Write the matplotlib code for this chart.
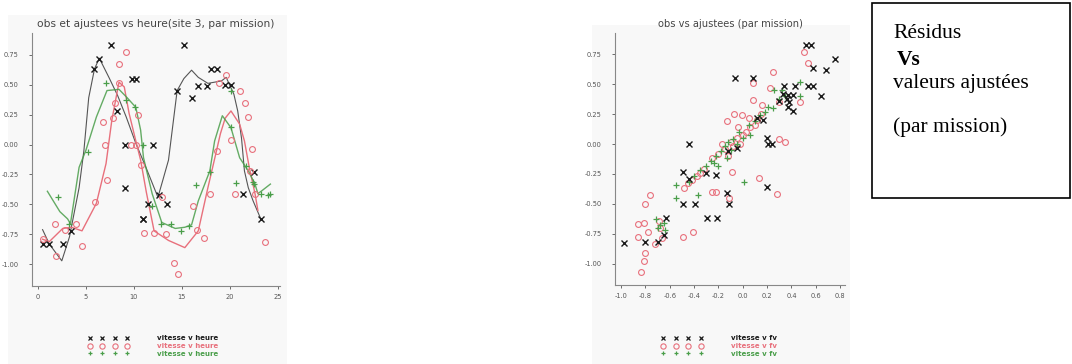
import matplotlib
matplotlib.use("Agg")
import matplotlib.pyplot as plt
from matplotlib.lines import Line2D
from matplotlib.patches import Rectangle

# ---- donnees : obs et ajustees vs heure (site 3) ----
noir_h = [0.5, 1.2, 2.6, 3.5, 5.9, 6.4, 7.6, 8.2, 9.1, 9.1, 9.8, 10.2, 10.9, 10.9, 11.5,
          12.0, 12.6, 13.4, 14.5, 15.2, 16.0, 16.7, 17.6, 18.0, 18.6, 19.5, 20.1, 21.4, 22.5, 23.2]
noir_v = [-0.83, -0.83, -0.83, -0.72, 0.63, 0.71, 0.83, 0.28, 0.0, -0.36, 0.55, 0.55, -0.62, -0.62, -0.50,
          0.0, -0.42, -0.50, 0.45, 0.83, 0.39, 0.49, 0.49, 0.63, 0.63, 0.50, 0.50, -0.41, -0.23, -0.62]

rouge_h = [9.2, 8.5, 8.5, 8.0, 7.8, 6.8, 7.0, 9.7, 10.2, 10.4, 10.7, 7.2, 19.6, 18.9, 21.0, 21.6,
           21.9, 22.3, 20.1, 18.6, 17.9, 20.5, 22.1, 12.9, 0.5, 1.75, 1.9, 2.8, 4.0, 4.6, 6.0,
           11.1, 12.1, 13.3, 14.2, 14.6, 16.2, 16.6, 17.3, 22.6, 23.6]
rouge_v = [0.77, 0.67, 0.51, 0.35, 0.22, 0.19, 0.0, 0.0, 0.0, 0.25, -0.17, -0.30, 0.58, 0.51, 0.45, 0.35,
           0.23, -0.04, 0.04, -0.05, -0.41, -0.41, -0.22, -0.44, -0.79, -0.66, -0.93, -0.71, -0.66, -0.85, -0.48,
           -0.74, -0.74, -0.75, -0.99, -1.08, -0.51, -0.71, -0.78, -0.41, -0.81]

vert_h = [7.1, 5.2, 9.2, 10.1, 10.9, 20.1, 20.1, 17.9, 16.5, 21.7, 22.5, 24.2, 23.2, 2.1, 3.3,
          11.9, 12.8, 13.9, 14.9, 15.7, 20.6, 22.4, 23.9]
vert_v = [0.51, -0.06, 0.37, 0.31, 0.0, 0.45, 0.15, -0.23, -0.34, -0.18, -0.33, -0.41, -0.41, -0.44, -0.66,
          -0.51, -0.66, -0.66, -0.72, -0.68, -0.32, -0.31, -0.42]

# courbes ajustees
noir_fit_h = [0.5, 1.2, 2.5, 3.3, 4.3, 4.8, 5.3, 5.9, 6.4, 7.4, 8.3, 9.2, 10.2, 11.3, 12.5,
              13.0, 13.6, 14.5, 15.2, 16.0, 16.7, 17.7, 19.1, 19.6, 20.4, 20.8, 21.2, 21.5, 21.9, 22.4, 23.2]
noir_fit_v = [-0.71, -0.83, -0.97, -0.77, -0.36, -0.05, 0.39, 0.63, 0.72, 0.56, 0.41, 0.23, 0.01, -0.20, -0.44,
              -0.30, -0.13, 0.45, 0.55, 0.62, 0.56, 0.51, 0.53, 0.56, 0.42, 0.28, 0.05, -0.22, -0.36, -0.47, -0.62]

rouge_fit_h = [0.5, 1.2, 2.6, 3.5, 4.6, 6.1, 7.1, 7.7, 8.45, 9.0, 9.5, 10.2, 10.7, 11.3, 12.1,
               13.6, 15.3, 16.7, 17.7, 18.6, 19.0, 19.5, 20.1, 21.0, 21.5, 22.0, 22.6, 22.9]
rouge_fit_v = [-0.79, -0.81, -0.70, -0.69, -0.72, -0.49, -0.16, 0.20, 0.52, 0.48, 0.26, 0.03, -0.13, -0.40, -0.72,
               -0.80, -0.86, -0.72, -0.36, -0.05, 0.09, 0.22, 0.28, 0.17, 0.03, -0.19, -0.41, -0.55]

vert_fit_h = [1.0, 2.3, 3.1, 3.4, 4.3, 5.0, 6.1, 7.2, 8.45, 9.3, 10.2, 10.7, 11.0, 11.9, 12.9,
              14.3, 15.3, 16.0, 16.7, 17.9, 18.4, 19.2, 20.1, 21.0, 21.9, 22.6, 22.9, 23.4, 24.2]
vert_fit_v = [-0.39, -0.56, -0.62, -0.66, -0.19, -0.05, 0.23, 0.45, 0.46, 0.39, 0.31, 0.12, -0.11, -0.41, -0.65,
              -0.70, -0.69, -0.67, -0.47, -0.22, 0.03, 0.24, 0.14, -0.11, -0.22, -0.33, -0.41, -0.38, -0.33]

# ---- donnees : obs vs ajustees ----
noir_aj = [0.52, 0.56, 0.76, 0.68, 0.58, -0.06, 0.08, 0.34, 0.43, 0.54, 0.58, 0.64, 0.37, 0.41, 0.38,
           0.37, 0.41, 0.20, 0.21, 0.24, -0.44, -0.49, -0.44, 0.20, -0.13, -0.11, -0.49, -0.39, -0.29,
           -0.21, -0.63, -0.65, -0.98, -0.80, -0.70, 0.33, 0.36, 0.30, 0.12, 0.17, -0.12, -0.05, -0.22, -0.30]
noir_obs = [0.83, 0.83, 0.71, 0.62, 0.64, 0.55, 0.55, 0.49, 0.49, 0.49, 0.49, 0.40, 0.41, 0.41, 0.35,
            0.31, 0.28, 0.05, 0.0, 0.0, 0.0, -0.23, -0.29, -0.36, -0.41, -0.50, -0.50, -0.50, -0.62,
            -0.62, -0.62, -0.76, -0.83, -0.82, -0.82, 0.42, 0.38, 0.36, 0.22, 0.20, -0.06, -0.03, -0.26, -0.24]

rouge_aj = [0.50, 0.54, 0.25, 0.08, 0.22, 0.08, 0.16, 0.30, 0.47, -0.07, -0.01, 0.05, -0.13, -0.04, 0.30,
            0.35, -0.09, 0.13, 0.28, -0.25, -0.22, -0.11, -0.76, -0.80, -0.86, -0.81, -0.78, -0.86, -0.69,
            -0.68, -0.66, -0.72, -0.49, -0.41, -0.80, -0.81, -0.84, -0.48, -0.45, -0.42, -0.38, -0.35, -0.32,
            -0.25, -0.20, -0.15, -0.10, -0.05, 0.0, 0.03, -0.02, 0.06, -0.08, -0.17, 0.10, 0.15, 0.12, -0.12]
rouge_obs = [0.77, 0.68, 0.60, 0.51, 0.47, 0.37, 0.33, 0.35, 0.35, 0.25, 0.24, 0.22, 0.19, 0.14, 0.04,
             0.02, -0.23, -0.28, -0.42, -0.40, -0.40, -0.45, -0.43, -0.50, -0.67, -0.66, -0.74, -0.78, -0.64,
             -0.70, -0.79, -0.84, -0.78, -0.74, -0.91, -0.98, -1.07, -0.37, -0.33, -0.30, -0.27, -0.24, -0.21,
             -0.12, -0.08, -0.04, 0.02, 0.05, 0.08, 0.10, 0.0, 0.14, -0.02, 0.0, 0.16, 0.25, 0.20, -0.10]

vert_aj = [0.47, 0.32, 0.26, 0.21, 0.10, 0.14, 0.18, 0.25, 0.05, -0.03, -0.08, -0.12, -0.15, -0.18, -0.22,
           -0.26, -0.30, -0.35, -0.40, -0.44, -0.24, 0.01, -0.55, -0.55, -0.37, -0.71, -0.68, -0.65, -0.64,
           -0.70, 0.47, -0.10, -0.05, 0.0, 0.06, -0.20, -0.13, 0.30, 0.35]
vert_obs = [0.52, 0.45, 0.45, 0.31, 0.19, 0.24, 0.27, 0.30, 0.16, 0.10, 0.04, 0.02, -0.02, -0.06, -0.10,
            -0.14, -0.18, -0.22, -0.27, -0.32, -0.16, -0.32, -0.34, -0.45, -0.43, -0.63, -0.68, -0.66, -0.72,
            -0.70, 0.40, -0.05, 0.0, 0.05, 0.08, -0.18, -0.12, 0.38, 0.40]

y_ticks = [0.75, 0.50, 0.25, 0.0, -0.25, -0.50, -0.75, -1.00]
x_ticks_h = [0, 5, 10, 15, 20, 25]
x_ticks_aj = [-1.0, -0.8, -0.6, -0.4, -0.2, 0.0, 0.2, 0.4, 0.6, 0.8]

NOIR = "#1a1a1a"
ROUGE = "#e8707c"
VERT = "#4a9e4a"

fig = plt.figure(figsize=(10.72, 3.64), dpi=100)
W, H = 1072, 364

def px_rect(x0, y0, x1, y1):
    return (x0 / W, 1 - y1 / H, (x1 - x0) / W, (y1 - y0) / H)

# fonds legerement gris des deux graphiques
for r in [px_rect(8, 15, 287, 364), px_rect(592, 25, 850, 364)]:
    fig.add_artist(Rectangle(r[:2], r[2], r[3], transform=fig.transFigure,
                             facecolor="#f8f8f8", edgecolor="none", zorder=0))

ax1 = fig.add_axes(px_rect(32, 33, 280, 286))
ax2 = fig.add_axes(px_rect(615, 33, 845, 285))

def style(ax, xt, xfmt):
    ax.set_facecolor("none")
    for s in ["top", "right"]:
        ax.spines[s].set_visible(False)
    for s in ["left", "bottom"]:
        ax.spines[s].set_color("#888888")
        ax.spines[s].set_linewidth(0.8)
    ax.set_yticks(y_ticks)
    ax.set_yticklabels([f"{v:.2f}" for v in y_ticks])
    ax.set_xticks(xt)
    ax.set_xticklabels([xfmt(v) for v in xt])
    ax.tick_params(labelsize=4.8, colors="#555555", length=2.5, width=0.6, pad=3)
    ax.tick_params(axis="y", pad=7)
    ax.set_ylim(-1.18, 0.93)

# graphe de gauche : series et courbes ajustees
ax1.plot(noir_fit_h, noir_fit_v, color="#555555", lw=0.8)
ax1.plot(rouge_fit_h, rouge_fit_v, color=ROUGE, lw=1.0)
ax1.plot(vert_fit_h, vert_fit_v, color=VERT, lw=1.0, alpha=0.85)
ax1.plot(noir_h, noir_v, ls="", marker="x", ms=3.8, mew=1.0, color=NOIR)
ax1.plot(rouge_h, rouge_v, ls="", marker="o", ms=4.2, mew=0.8, mfc="none", color=ROUGE)
ax1.plot(vert_h, vert_v, ls="", marker="+", ms=3.8, mew=0.9, color=VERT)
style(ax1, x_ticks_h, lambda v: f"{v:d}")
ax1.set_xlim(-0.6, 25.2)
ax1.set_title("obs et ajustees vs heure(site 3, par mission)", fontsize=7.7, color="#444444", pad=4)

# graphe de droite : obs vs ajustees
ax2.plot(rouge_aj, rouge_obs, ls="", marker="o", ms=4.2, mew=0.8, mfc="none", color=ROUGE)
ax2.plot(vert_aj, vert_obs, ls="", marker="+", ms=3.8, mew=0.9, color=VERT)
ax2.plot(noir_aj, noir_obs, ls="", marker="x", ms=3.8, mew=1.0, color=NOIR)
style(ax2, x_ticks_aj, lambda v: f"{v:.1f}")
ax2.set_xlim(-1.05, 0.84)
ax2.set_title("obs vs ajustees (par mission)", fontsize=7.1, color="#444444", pad=4)

# legendes sous chaque graphe
def poignees():
    return [Line2D([], [], ls="", marker="x", ms=3.5, mew=0.9, color=NOIR),
            Line2D([], [], ls="", marker="o", ms=3.8, mew=0.8, mfc="none", color=ROUGE),
            Line2D([], [], ls="", marker="+", ms=3.5, mew=0.9, color=VERT)]

fig.legend(poignees(), ["vitesse v heure"] * 3, loc="center",
           bbox_to_anchor=(153 / W, 1 - 346 / H), frameon=False, numpoints=4,
           handlelength=6, handletextpad=4, labelspacing=0.25,
           labelcolor="linecolor", prop={"weight": "bold", "size": 5})
fig.legend(poignees(), ["vitesse v fv"] * 3, loc="center",
           bbox_to_anchor=(719 / W, 1 - 346 / H), frameon=False, numpoints=4,
           handlelength=6, handletextpad=4, labelspacing=0.25,
           labelcolor="linecolor", prop={"weight": "bold", "size": 5})

# encadre de texte a droite
r = px_rect(872, 3, 1070, 198)
fig.add_artist(Rectangle(r[:2], r[2], r[3], transform=fig.transFigure,
                         facecolor="white", edgecolor="black", linewidth=1.2))
serif = "Liberation Serif"
fig.text(893 / W, 1 - 38 / H, "Résidus", family=serif, fontsize=15.5, va="baseline")
fig.text(897 / W, 1 - 65 / H, "Vs", family=serif, fontsize=15.5, weight="bold", va="baseline")
fig.text(893 / W, 1 - 88 / H, "valeurs ajustées", family=serif, fontsize=15.5, va="baseline")
fig.text(893 / W, 1 - 132 / H, "(par mission)", family=serif, fontsize=15.5, va="baseline")

fig.savefig("out.png", dpi=100)
